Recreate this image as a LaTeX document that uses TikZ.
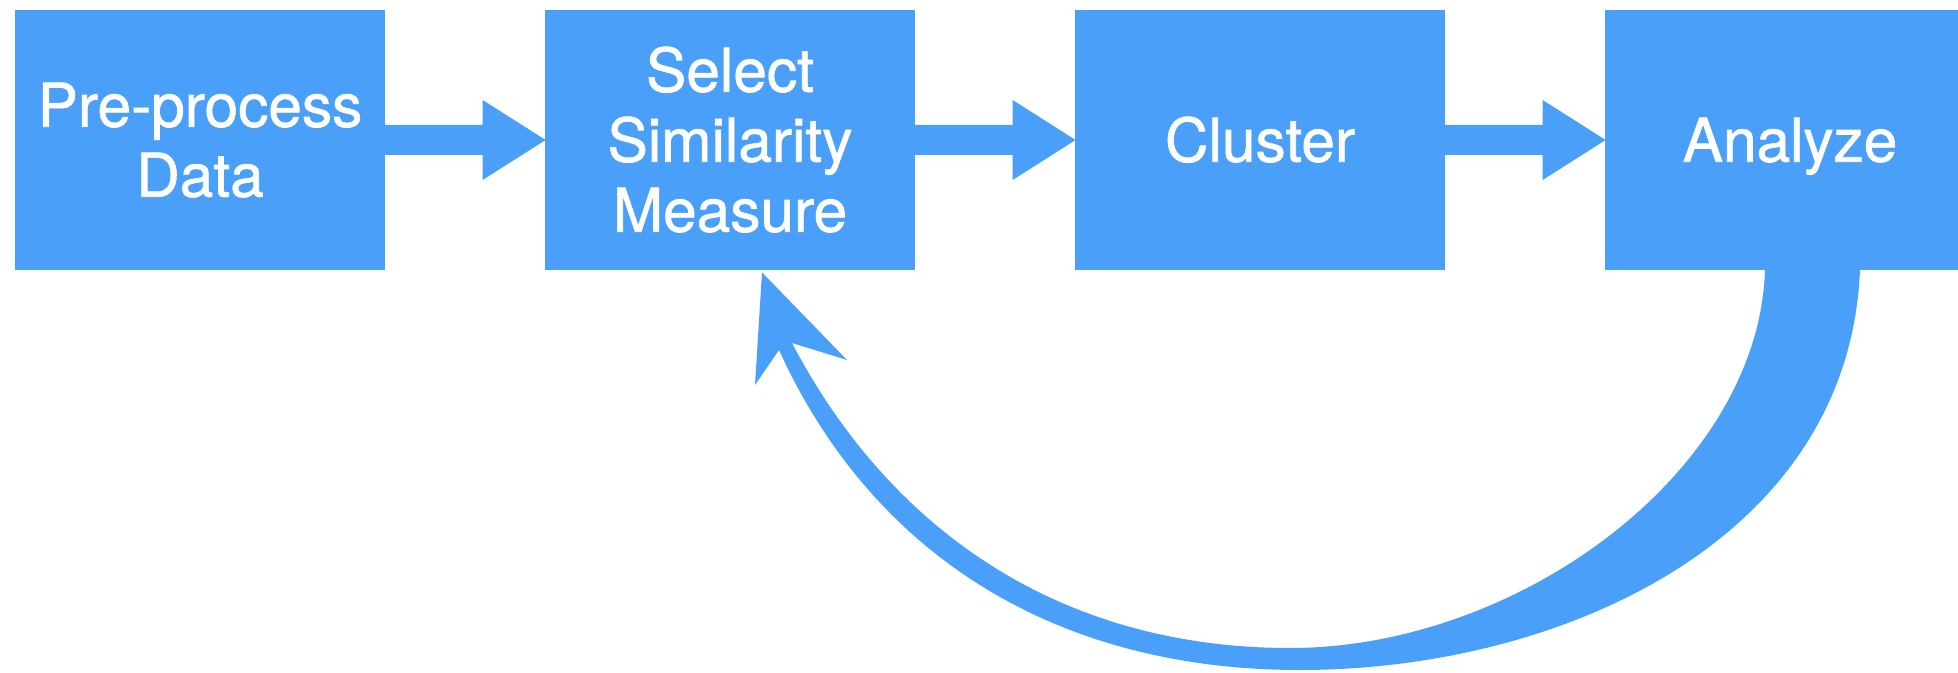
\documentclass[tikz,border=0pt]{standalone}
\usepackage{fontspec}
\setmainfont{TeX Gyre Heros}
\newfontfamily\boxfont[FakeBold=1.1]{TeX Gyre Heros}
\usetikzlibrary{calc}
\definecolor{flowblue}{RGB}{74,160,249}
\begin{document}
\begin{tikzpicture}[x=0.5pt,y=-0.5pt,
  box/.style={fill=flowblue, minimum width=185pt, minimum height=130pt, inner sep=0pt,
    text=white, align=center, font=\boxfont\fontsize{30.2pt}{35pt}\selectfont,
    text height=21.7pt, text depth=0pt},
  flow/.style={fill=flowblue}]
\useasboundingbox (0,0) rectangle (1958,673);
\node[box, text height=56.7pt] (pre) at (200,140) {Pre-process\\Data};
\node[box, text height=91.7pt] (sel) at (730,140) {Select\\Similarity\\Measure};
\node[box] (clu) at (1260,140) {Cluster};
\node[box] (ana) at (1790,140) {Analyze};
\foreach \a/\b in {pre/sel, sel/clu, clu/ana}{
  \fill[flow] ($(\a.east)+(-1,-15)$) -- ($(\b.west)+(-62,-15)$) -- ($(\b.west)+(-62,-40)$)
    -- ($(\b.west)+(1,0)$) -- ($(\b.west)+(-62,40)$) -- ($(\b.west)+(-62,15)$)
    -- ($(\a.east)+(-1,15)$) -- cycle;
}
\coordinate (fbOutStart) at ($(ana.south)+(70,-2)$);
\coordinate (fbInStart) at ($(ana.south)+(-25,-2)$);
\coordinate (fbTip) at ($(sel.south)+(32,2)$);
\coordinate (fbOutBot) at (1300,670);
\coordinate (fbInBot) at (1290,648);
\fill[flow] (fbOutStart) .. controls ($(ana.south)+(60,270)$) and (1560,670) .. (fbOutBot)
  .. controls (1050,670) and (870,550) .. (779,350)
  -- (755,385) -- (fbTip) -- (847,360) -- (792,343)
  .. controls (890,530) and (1060,648) .. (fbInBot)
  .. controls (1520,648) and (1760,470) .. (fbInStart) -- cycle;
\end{tikzpicture}
\end{document}
